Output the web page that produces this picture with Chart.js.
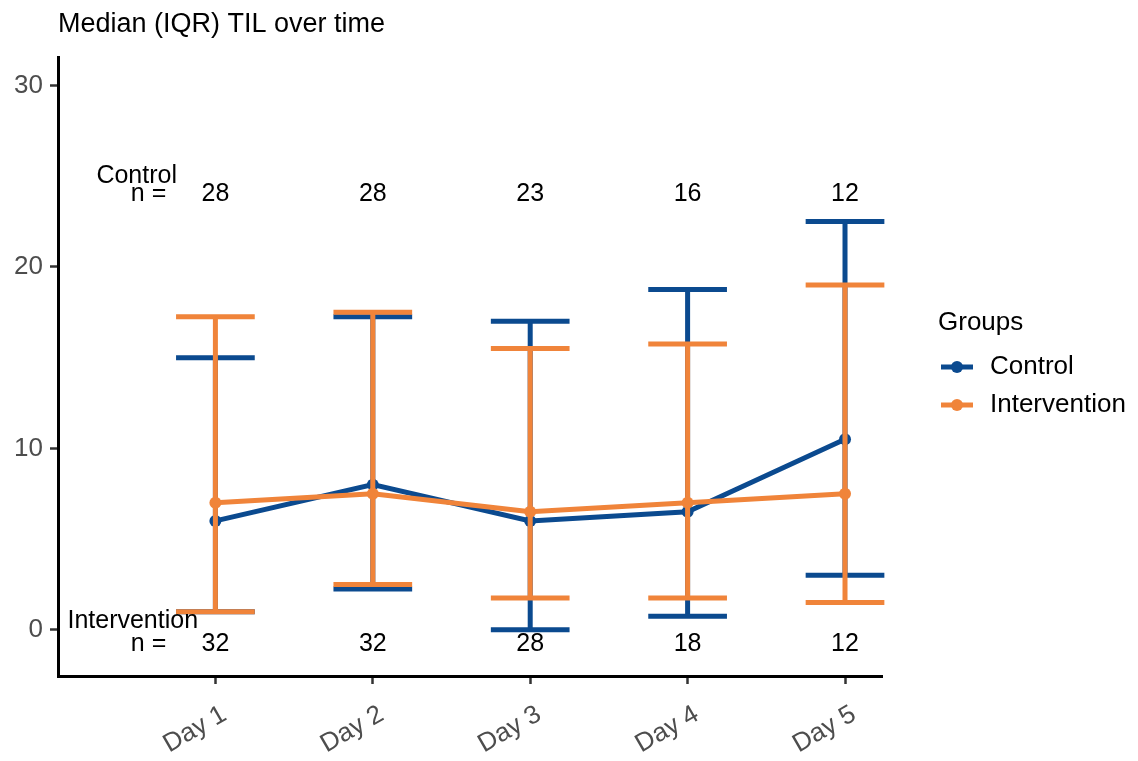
<!DOCTYPE html>
<html>
<head>
<meta charset="utf-8">
<title>Median (IQR) TIL over time</title>
<script src="https://cdn.jsdelivr.net/npm/chart.js@4.4.1/dist/chart.umd.min.js"></script>
<style>
  html, body { margin: 0; padding: 0; background: #ffffff; }
  #wrap { width: 1138px; height: 761px; }
</style>
</head>
<body>
<div id="wrap"><canvas id="chart" width="1138" height="761"></canvas></div>
<script>
// ---- data ----
const days = ['Day 1', 'Day 2', 'Day 3', 'Day 4', 'Day 5'];
const yTicks = [0, 10, 20, 30];

const controlMedian = [6, 8, 6, 6.5, 10.5];
const controlQ1     = [1, 2.25, 0, 0.75, 3];
const controlQ3     = [15, 17.25, 17, 18.75, 22.5];
const controlN      = [28, 28, 23, 16, 12];

const interventionMedian = [7, 7.5, 6.5, 7, 7.5];
const interventionQ1     = [1, 2.5, 1.75, 1.75, 1.5];
const interventionQ3     = [17.25, 17.5, 15.5, 15.75, 19];
const interventionN      = [32, 32, 28, 18, 12];

// ---- styling ----
const FONT = '"Liberation Sans", Arial, Helvetica, sans-serif';
const BLUE = '#0B4A8F';
const ORANGE = '#F0843A';
const CAP = 0.25;          // half width of the IQR caps, in category units
const LINE_W = 5;
const POINT_R = 6;

const groups = [
  { name: 'Control', color: BLUE, median: controlMedian, q1: controlQ1, q3: controlQ3, n: controlN },
  { name: 'Intervention', color: ORANGE, median: interventionMedian, q1: interventionQ1, q3: interventionQ3, n: interventionN }
];

const toPoints = arr => arr.map((v, i) => ({ x: i + 1, y: v }));

// IQR whiskers, drawn just before each group's median line so that
// the later group sits on top of the earlier one
const iqrBars = {
  id: 'iqrBars',
  beforeDatasetDraw(chart, args) {
    const g = groups[args.index];
    const xs = chart.scales.x, ys = chart.scales.y;
    const ctx = chart.ctx;
    ctx.save();
    ctx.strokeStyle = g.color;
    ctx.lineWidth = LINE_W;
    ctx.lineCap = 'butt';
    g.median.forEach((m, i) => {
      const xc = xs.getPixelForValue(i + 1);
      const xl = xs.getPixelForValue(i + 1 - CAP);
      const xr = xs.getPixelForValue(i + 1 + CAP);
      const yl = ys.getPixelForValue(g.q1[i]);
      const yh = ys.getPixelForValue(g.q3[i]);
      ctx.beginPath();
      ctx.moveTo(xc, yl); ctx.lineTo(xc, yh);
      ctx.moveTo(xl, yl); ctx.lineTo(xr, yl);
      ctx.moveTo(xl, yh); ctx.lineTo(xr, yh);
      ctx.stroke();
    });
    ctx.restore();
  }
};

// sample size rows and the group legend
const annotations = {
  id: 'annotations',
  afterDatasetsDraw(chart) {
    const xs = chart.scales.x, ys = chart.scales.y;
    const ctx = chart.ctx;
    ctx.save();
    ctx.fillStyle = '#000000';
    ctx.font = '25px ' + FONT;
    ctx.textAlign = 'center';
    ctx.textBaseline = 'middle';
    const rows = [
      { label: 'Control', labelX: 0.5, labelY: 25, nY: 24, n: controlN },
      { label: 'Intervention', labelX: 0.475, labelY: 0.45, nY: -0.8, n: interventionN }
    ];
    rows.forEach(r => {
      ctx.fillText(r.label, xs.getPixelForValue(r.labelX), ys.getPixelForValue(r.labelY));
      ctx.fillText('n =', xs.getPixelForValue(0.575), ys.getPixelForValue(r.nY));
      r.n.forEach((v, i) => {
        ctx.fillText(String(v), xs.getPixelForValue(i + 1), ys.getPixelForValue(r.nY));
      });
    });
    ctx.restore();
  },
  afterDraw(chart) {
    const ctx = chart.ctx;
    ctx.save();
    ctx.fillStyle = '#000000';
    ctx.textAlign = 'left';
    ctx.textBaseline = 'middle';
    ctx.font = '26px ' + FONT;
    ctx.fillText('Groups', 938, 323);
    groups.forEach((g, i) => {
      const y = 367 + i * 38;
      ctx.strokeStyle = g.color;
      ctx.lineWidth = LINE_W;
      ctx.beginPath();
      ctx.moveTo(941, y); ctx.lineTo(973, y);
      ctx.stroke();
      ctx.fillStyle = g.color;
      ctx.beginPath();
      ctx.arc(957, y, POINT_R, 0, Math.PI * 2);
      ctx.fill();
      ctx.fillStyle = '#000000';
      ctx.fillText(g.name, 990, y);
    });
    ctx.restore();
  }
};

const axisBorder = { display: true, color: '#000000', width: 3 };
const axisGrid = { display: true, drawOnChartArea: false, drawTicks: true, tickLength: 8, tickWidth: 2.5, tickColor: '#333333' };
const tickFont = { family: FONT, size: 26 };

new Chart(document.getElementById('chart'), {
  type: 'line',
  data: {
    datasets: groups.map((g, i) => ({
      label: g.name,
      data: toPoints(g.median),
      borderColor: g.color,
      backgroundColor: g.color,
      borderWidth: LINE_W,
      pointRadius: POINT_R,
      pointHoverRadius: POINT_R,
      pointBorderWidth: 0,
      pointBackgroundColor: g.color,
      tension: 0,
      fill: false,
      order: groups.length - i
    }))
  },
  options: {
    responsive: false,
    animation: false,
    devicePixelRatio: 1,
    layout: { padding: { top: 0, right: 256, bottom: 0, left: 0 } },
    plugins: {
      legend: { display: false },
      tooltip: { enabled: false },
      title: {
        display: true,
        text: 'Median (IQR) TIL over time',
        align: 'start',
        fullSize: false,
        color: '#000000',
        font: { family: FONT, size: 27, weight: 'normal' },
        padding: { top: 8, bottom: 17 }
      }
    },
    scales: {
      x: {
        type: 'linear',
        min: 0,
        max: 5.235,
        afterBuildTicks: s => { s.ticks = days.map((d, i) => ({ value: i + 1 })); },
        afterFit: s => { s.height = 85; },
        border: axisBorder,
        grid: axisGrid,
        ticks: {
          autoSkip: false,
          minRotation: 30,
          maxRotation: 30,
          color: '#4D4D4D',
          font: tickFont,
          padding: 15,
          labelOffset: 9,
          callback: (v, i) => days[i]
        }
      },
      y: {
        min: -2.548,
        max: 31.548,
        afterBuildTicks: s => { s.ticks = yTicks.map(v => ({ value: v })); },
        afterFit: s => { s.width = 58; },
        border: axisBorder,
        grid: axisGrid,
        ticks: {
          color: '#4D4D4D',
          font: tickFont,
          padding: 7
        }
      }
    }
  },
  plugins: [iqrBars, annotations]
});
</script>
</body>
</html>
